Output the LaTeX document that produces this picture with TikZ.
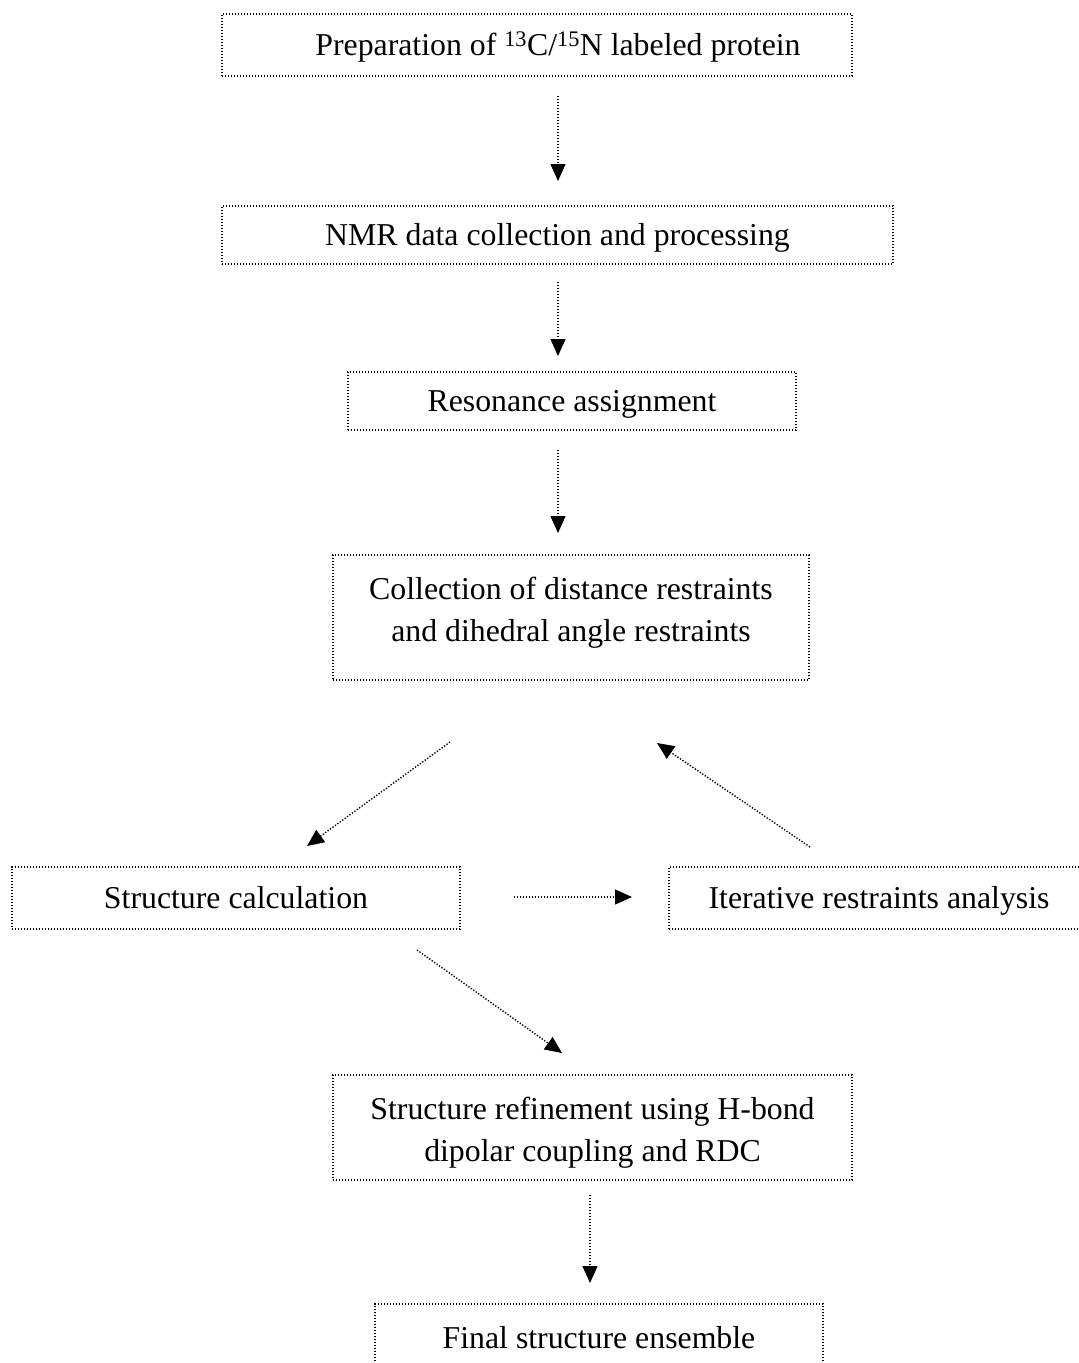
\documentclass[tikz,border=0pt]{standalone}
\usepackage{fontspec}
\setmainfont{Liberation Serif}
\usetikzlibrary{arrows.meta}
\begin{document}
\begin{tikzpicture}[x=1pt,y=-1pt,
  dotline/.style={line width=1.4pt, dash pattern=on 1.3pt off 1.7pt},
  txtfont/.style={font=\fontsize{31.8}{42.5}\selectfont},
  box/.style={draw, dotline, rectangle, inner sep=0pt, align=center, txtfont,
    text height=25pt, text depth=4pt},
  frame/.style={draw, dotline, rectangle, inner sep=0pt},
  txt/.style={inner sep=0pt, align=center, txtfont},
  arr/.style={dotline, -{Triangle[length=17pt,width=15pt]}}]
\useasboundingbox (0,0) rectangle (1079,1363);

\node[box, minimum width=630pt, minimum height=62pt] (b1) at (537,45)
  {\hspace*{42pt}Preparation of \textsuperscript{13}C/\textsuperscript{15}N labeled protein};
\node[box, minimum width=671pt, minimum height=58pt] (b2) at (557.5,235)
  {NMR data collection and processing};
\node[box, minimum width=448pt, minimum height=58pt] (b3) at (572,401)
  {Resonance assignment};
\node[frame, minimum width=476pt, minimum height=125pt] (b4) at (571,617.5) {};
\node[txt] (t4) at ([yshift=5pt]b4.center)
  {Collection of distance restraints\\and dihedral angle restraints};
\node[box, minimum width=448pt, minimum height=62pt] (b5) at (236,898)
  {Structure calculation};
\node[box, minimum width=420pt, minimum height=62pt] (b6) at (879,898)
  {Iterative restraints analysis};
\node[frame, minimum width=519pt, minimum height=105pt] (b7) at (592.5,1127.5) {};
\node[txt] (t7) at ([yshift=-5pt]b7.center)
  {Structure refinement using H-bond\\dipolar coupling and RDC};
\node[box, minimum width=448pt, minimum height=68pt] (b8) at (599,1338)
  {Final structure ensemble};

\coordinate (a1s) at (558,96);   \coordinate (a1e) at (558,181);
\coordinate (a2s) at (558,282);  \coordinate (a2e) at (558,356);
\coordinate (a3s) at (558,450);  \coordinate (a3e) at (558,533);
\coordinate (a4s) at (450,742);  \coordinate (a4e) at (307,846);
\coordinate (a5s) at (810,847);  \coordinate (a5e) at (657,743);
\coordinate (a6s) at (514,897);  \coordinate (a6e) at (632,897);
\coordinate (a7s) at (417,950);  \coordinate (a7e) at (562,1053);
\coordinate (a8s) at (590,1195); \coordinate (a8e) at (590,1283);

\draw[arr] (a1s) -- (a1e);
\draw[arr] (a2s) -- (a2e);
\draw[arr] (a3s) -- (a3e);
\draw[arr] (a4s) -- (a4e);
\draw[arr] (a5s) -- (a5e);
\draw[arr] (a6s) -- (a6e);
\draw[arr] (a7s) -- (a7e);
\draw[arr] (a8s) -- (a8e);
\end{tikzpicture}
\end{document}
